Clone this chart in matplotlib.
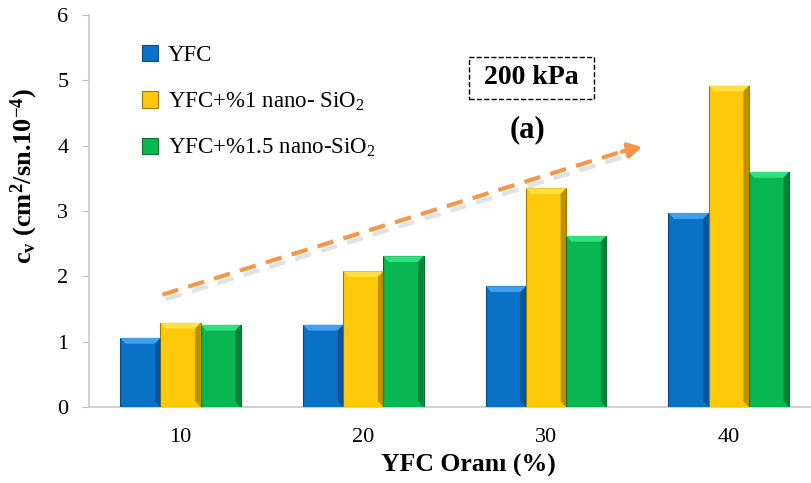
import numpy as np
import matplotlib
matplotlib.use('Agg')
import matplotlib.pyplot as plt
from matplotlib.patches import Polygon

plt.rcParams['font.family'] = ['Liberation Serif', 'DejaVu Serif']
plt.rcParams['mathtext.default'] = 'regular'

# data
categories = ['10', '20', '30', '40']
series_names = ['YFC', 'YFC+%1 nano- SiO$_2$', 'YFC+%1.5 nano-SiO$_2$']
yfc = [1.06, 1.26, 1.85, 2.97]
yfc_1 = [1.29, 2.08, 3.35, 4.92]
yfc_15 = [1.26, 2.31, 2.62, 3.60]
colors = ['#0A72C6', '#FFC808', '#08B652']
lights = ['#3FA0EE', '#FFE040', '#30E080']
darks = ['#06497F', '#9C7A00', '#04702F']

fig = plt.figure(figsize=(8.11, 4.83), dpi=100)
ax = fig.add_axes([0.110, 0.157, 0.89, 0.812])
ax.set_xlim(-0.5, 3.45)
ax.set_ylim(0, 6)

x = np.arange(len(categories))
w = 0.22
bx = 0.03   # bevel size, x data units
by = 0.09   # bevel size, y data units
for i, (vals, c, lc, dc, name) in enumerate(zip([yfc, yfc_1, yfc_15], colors, lights, darks, series_names)):
    bars = ax.bar(x + (i - 1) * w, vals, width=w, color=c, edgecolor=dc, linewidth=0.8,
                  label=name, zorder=3)
    # simple bevel: light top, dark right side
    for p in bars:
        x0, x1 = p.get_x(), p.get_x() + p.get_width()
        h = p.get_height()
        ax.add_patch(Polygon([(x0, h), (x1, h), (x1 - bx, h - by), (x0 + bx, h - by)],
                             closed=True, fc=lc, ec='none', zorder=4))
        ax.add_patch(Polygon([(x1, h), (x1, 0), (x1 - bx, by), (x1 - bx, h - by)],
                             closed=True, fc=dc, ec='none', alpha=0.7, zorder=4))

ax.set_xticks(x)
ax.set_xticklabels(categories, fontsize=16)
ax.set_yticks(range(7))
ax.tick_params(axis='y', labelsize=16, color='#BFBFBF', length=5, pad=10)
ax.tick_params(axis='x', length=0, pad=15)
for s in ['top', 'right']:
    ax.spines[s].set_visible(False)
for s in ['left', 'bottom']:
    ax.spines[s].set_color('#C8C8C8')
    ax.spines[s].set_linewidth(1.2)

ax.set_ylabel('c$_v$ (cm$^2$/sn.10$^{-4}$)', fontsize=19, fontweight='bold')
ax.yaxis.set_label_coords(-0.068, 0.59)
ax.set_xlabel('YFC Oranı (%)', fontsize=18.5, fontweight='bold')
ax.xaxis.set_label_coords(0.525, -0.118)

leg = ax.legend(loc='upper left', bbox_to_anchor=(0.045, 0.975), frameon=False,
                fontsize=16.5, handlelength=0.7, handleheight=0.7,
                labelspacing=1.05, handletextpad=0.4)

# trend arrow with shadow
sx, sy = [-0.1, 2.45], [1.72, 3.94]
ax.plot([sx[0] + 0.02, sx[1] + 0.02], [sy[0] - 0.07, sy[1] - 0.07], color='#CFCFCF',
        lw=3, ls=(0, (4, 2.5)), alpha=0.6, zorder=4)
ax.plot(sx, sy, color='#F79646', lw=3, ls=(0, (4, 2.5)), zorder=5)
ax.annotate('', xy=(2.54, 3.99), xytext=(2.40, 3.90),
            arrowprops=dict(arrowstyle='-|>,head_length=0.8,head_width=0.45',
                            color='#F79646', lw=3), zorder=5)

ax.text(1.92, 5.04, ' 200 kPa ', fontsize=20, fontweight='bold', ha='center', va='center',
        bbox=dict(boxstyle='square,pad=0.3', fc='white', ec='black', ls='--', lw=1))
ax.text(1.90, 4.24, '(a)', fontsize=22, fontweight='bold', ha='center', va='center')

fig.savefig('out.png', dpi=100)
